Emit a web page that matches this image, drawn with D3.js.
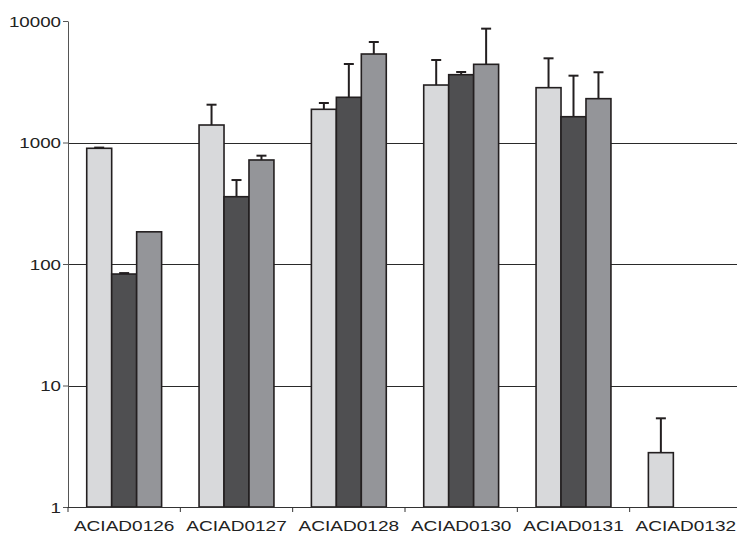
<!DOCTYPE html>
<html>
<head>
<meta charset="utf-8">
<script src="https://cdn.jsdelivr.net/npm/d3@7"></script>
<style>
  html, body { margin: 0; padding: 0; background: #fff; }
  svg { display: block; }
</style>
</head>
<body>
<svg id="chart"></svg>
<script>
// Data
const genes = ["ACIAD0126", "ACIAD0127", "ACIAD0128", "ACIAD0130", "ACIAD0131", "ACIAD0132"];
const seriesNames = ["light", "dark", "medium"];

const lightValues  = [896, 1393, 1876, 2972, 2826, 2.8];
const darkValues   = [82.7, 358, 2355, 3615, 1630, null];
const mediumValues = [184, 718, 5350, 4400, 2295, null];

// upward error bar lengths (same units as values)
const lightErrors  = [12, 654, 237, 1803, 2104, 2.57];
const darkErrors   = [1.5, 133, 2070, 190, 1918, null];
const mediumErrors = [0, 61, 1364, 4250, 1490, null];

const yTicks = [1, 10, 100, 1000, 10000];
const gridTicks = [10, 100, 1000];

const colors = {
  light: "#d8d9db",
  dark: "#4f4f51",
  medium: "#949599"
};

const dims = {
  width: 737,
  height: 534,
  left: 68,
  right: 742,
  top: 21,
  bottom: 507
};

function chart() {
  const values = { light: lightValues, dark: darkValues, medium: mediumValues };
  const errors = { light: lightErrors, dark: darkErrors, medium: mediumErrors };

  // flatten into one row per bar
  let bars = [];
  genes.forEach((g, i) => {
    seriesNames.forEach(s => {
      if (values[s][i] != null) {
        bars.push({ gene: g, series: s, value: values[s][i], err: errors[s][i] });
      }
    });
  });

  const svg = d3.select("#chart")
      .attr("width", dims.width)
      .attr("height", dims.height);

  let x0 = d3.scaleBand()
      .domain(genes)
      .range([dims.left, dims.right])
      .padding(0);

  // Excel-like 150% gap: outer padding 0.75 of a bar on each side
  let x1 = d3.scaleBand()
      .domain(seriesNames)
      .range([0, x0.bandwidth()])
      .paddingInner(0)
      .paddingOuter(0.75);

  let y = d3.scaleLog()
      .domain([1, 10000])
      .range([dims.bottom, dims.top]);

  // gridlines
  svg.append("g")
      .selectAll("line")
      .data(gridTicks)
      .join("line")
      .attr("x1", dims.left)
      .attr("x2", dims.right)
      .attr("y1", d => Math.round(y(d)) + 0.5)
      .attr("y2", d => Math.round(y(d)) + 0.5)
      .attr("stroke", "#2a2a2a")
      .attr("stroke-width", 1);

  // error bars (drawn before bars so the stem starts at the bar top)
  let errG = svg.append("g")
      .attr("stroke", "#231f20")
      .attr("stroke-width", 2);

  bars.filter(d => d.err > 0).forEach(d => {
    let cx = x0(d.gene) + x1(d.series) + x1.bandwidth() / 2;
    let yTop = y(d.value + d.err);
    errG.append("line")
        .attr("x1", cx).attr("x2", cx)
        .attr("y1", y(d.value)).attr("y2", yTop);
    errG.append("line")
        .attr("x1", cx - 5).attr("x2", cx + 5)
        .attr("y1", yTop).attr("y2", yTop);
  });

  // bars
  svg.append("g")
      .selectAll("rect")
      .data(bars)
      .join("rect")
      .attr("x", d => x0(d.gene) + x1(d.series))
      .attr("y", d => y(d.value))
      .attr("width", x1.bandwidth())
      .attr("height", d => y(1) - y(d.value))
      .attr("fill", d => colors[d.series])
      .attr("stroke", "#231f20")
      .attr("stroke-width", 1.6);

  // y axis
  let yAxis = g => g
      .attr("transform", `translate(${dims.left}, 0)`)
      .call(d3.axisLeft(y).tickValues(yTicks).tickFormat(d3.format("d")).tickSize(5).tickSizeOuter(0))
      .call(g => g.select(".domain").attr("stroke", "#555"))
      .call(g => g.selectAll(".tick line").attr("stroke", "#555"))
      .call(g => g.selectAll(".tick text")
          .attr("x", 0)
          .attr("dy", "0.35em")
          .attr("fill", "#222")
          .style("font-family", "Liberation Sans, Arial, sans-serif")
          .style("font-size", "15px")
          .attr("transform", "translate(-7,0) scale(1.25,1)"));

  // x axis: ticks at category boundaries, labels centred
  let xAxis = g => {
    g.attr("transform", `translate(0, ${dims.bottom})`);
    g.append("line")
        .attr("x1", dims.left).attr("x2", dims.right)
        .attr("y1", 0.5).attr("y2", 0.5)
        .attr("stroke", "#333");
    g.selectAll("line.tick")
        .data(genes)
        .join("line")
        .attr("class", "tick")
        .attr("x1", d => x0(d)).attr("x2", d => x0(d))
        .attr("y1", 0).attr("y2", 5)
        .attr("stroke", "#333");
    g.selectAll("text")
        .data(genes)
        .join("text")
        .attr("transform", d => `translate(${x0(d) + x0.bandwidth() / 2}, 24) scale(1.27,1)`)
        .attr("text-anchor", "middle")
        .attr("fill", "#222")
        .style("font-family", "Liberation Sans, Arial, sans-serif")
        .style("font-size", "15px")
        .text(d => d);
  };

  svg.append("g").call(yAxis);
  svg.append("g").call(xAxis);
}

chart();
</script>
</body>
</html>
